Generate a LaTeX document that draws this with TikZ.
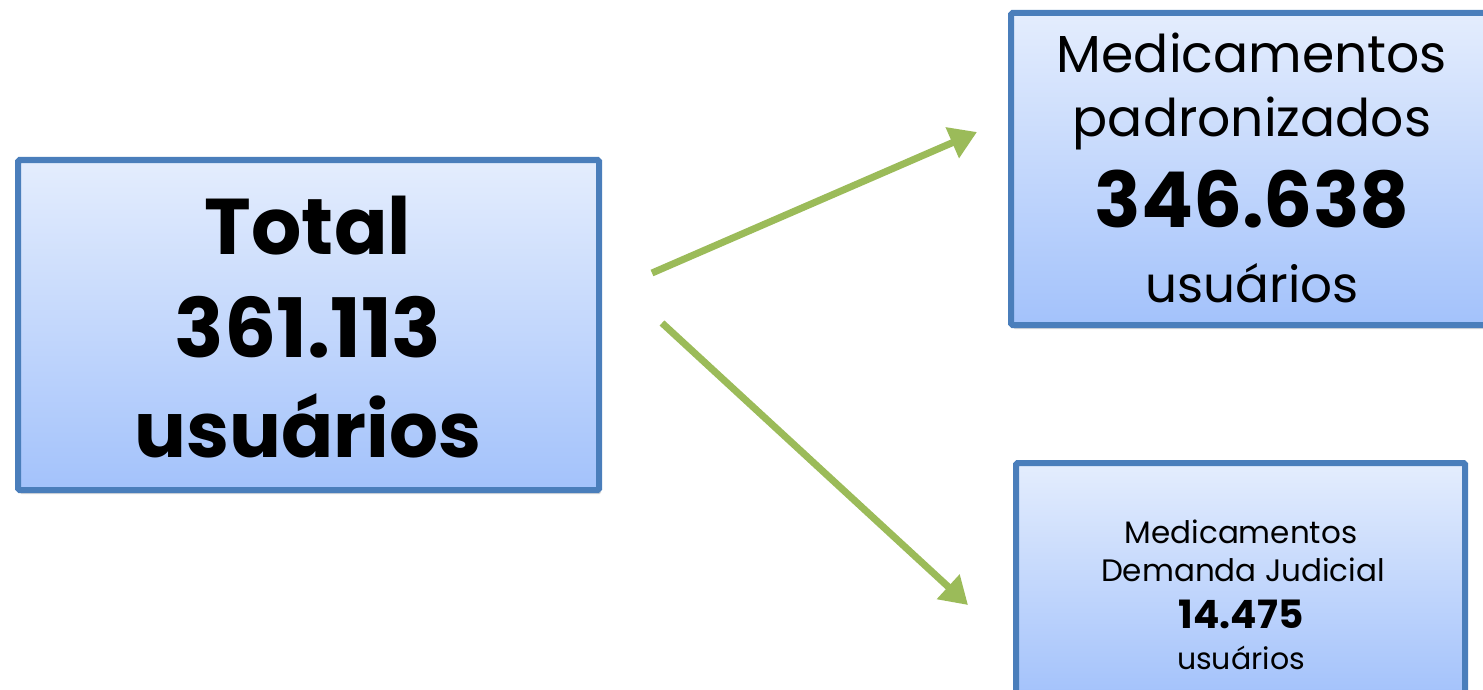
\documentclass[tikz,border=0pt]{standalone}
\usepackage{fontspec}
\setmainfont{Poppins}
\usetikzlibrary{arrows.meta,shadows}
\definecolor{boxborder}{HTML}{4A7EBB}
\definecolor{boxtop}{HTML}{E4EDFD}
\definecolor{boxbot}{HTML}{A3C2FB}
\definecolor{arrowgreen}{HTML}{9BBB59}
\begin{document}
\begin{tikzpicture}[x=1pt,y=-1pt,
  box/.style={draw=boxborder, line width=6pt, top color=boxtop, bottom color=boxbot,
    rounded corners=1.5pt, inner sep=0pt,
    drop shadow={opacity=0.3, shadow xshift=2pt, shadow yshift=-4pt}},
  conn/.style={draw=arrowgreen, line width=7pt, -{Triangle[length=27pt,width=32pt]}},
  txt/.style={anchor=base, inner sep=0pt}]
\useasboundingbox (0,0) rectangle (1483,690);
% boxes
\node[box, minimum width=581pt, minimum height=330pt] (total) at (308.5,325) {};
\node[box, minimum width=482pt, minimum height=312pt] (padr) at (1252,169) {};
\node[box, minimum width=449pt, minimum height=234pt] (jud) at (1240.5,580) {};
% left texts
\node[txt, font=\fontsize{79}{79}\selectfont\bfseries] (t1) at (308,254) {Total};
\node[txt, font=\fontsize{82}{82}\selectfont\bfseries] (t2) at (308,357) {361.113};
\node[txt, font=\fontsize{77}{77}\selectfont\bfseries] (t3) at (308,457) {usuários};
% top right texts
\node[txt, font=\fontsize{52}{52}\selectfont] (p1) at (1252,73) {Medicamentos};
\node[txt, font=\fontsize{52}{52}\selectfont] (p2) at (1252,137) {padronizados};
\node[txt, font=\fontsize{77}{77}\selectfont\bfseries] (p3) at (1252,227) {346.638};
\node[txt, font=\fontsize{50}{50}\selectfont] (p4) at (1252,302) {usuários};
% bottom right texts
\node[txt, font=\fontsize{31}{31}\selectfont] (j1) at (1241,543) {Medicamentos};
\node[txt, font=\fontsize{31}{31}\selectfont] (j2) at (1243,581) {Demanda Judicial};
\node[txt, font=\fontsize{39}{39}\selectfont\bfseries] (j3) at (1241,628) {14.475};
\node[txt, font=\fontsize{30}{30}\selectfont] (j4) at (1241,669) {usuários};
% connectors
\coordinate (a1s) at (652,273);
\coordinate (a1e) at (977,132);
\coordinate (a2s) at (662,323);
\coordinate (a2e) at (968,605);
\draw[conn] (a1s) -- (a1e);
\draw[conn] (a2s) -- (a2e);
\end{tikzpicture}
\end{document}
